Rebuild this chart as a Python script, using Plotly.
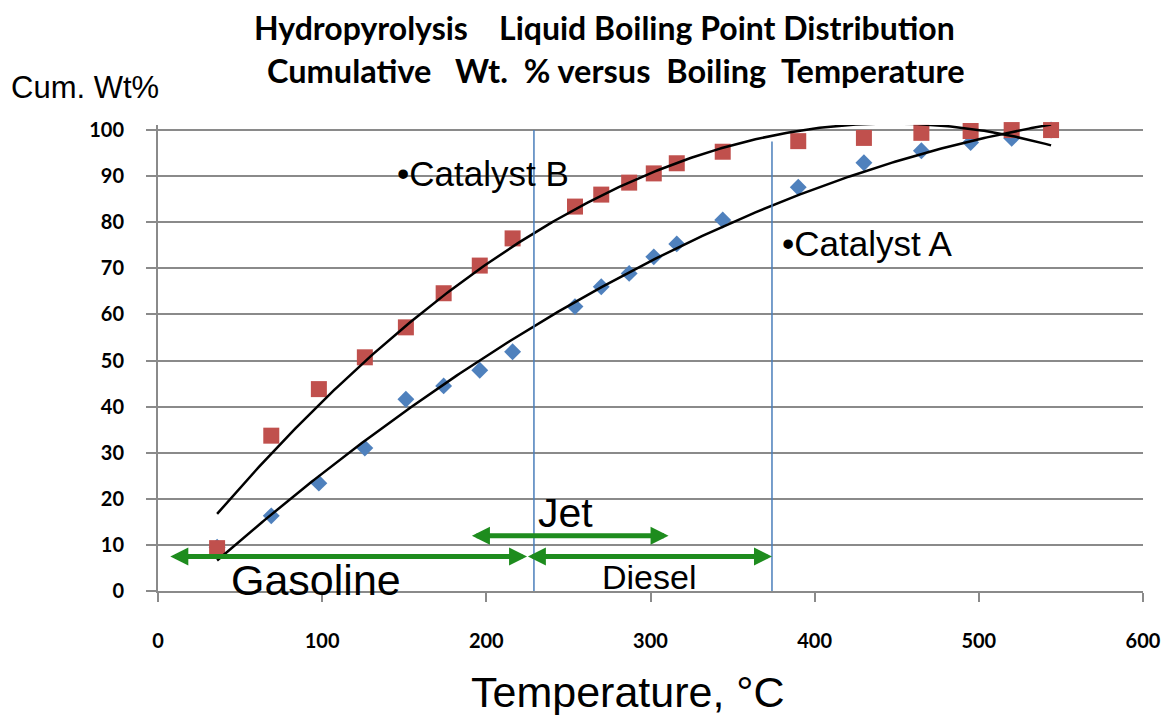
import numpy as np
import plotly.graph_objects as go

# ---------------- data ----------------
TEMP_C = [36, 69, 98, 126, 151, 174, 196, 216, 254, 270, 287, 302, 316, 344,
          390, 430, 465, 495, 520, 544]
CATALYST_A = [9.5, 16.3, 23.4, 31.0, 41.6, 44.5, 47.9, 51.9, 61.7, 66.0, 68.9,
              72.5, 75.3, 80.5, 87.6, 92.9, 95.5, 97.3, 98.2, 100.0]
CATALYST_B = [9.3, 33.7, 43.8, 50.7, 57.2, 64.6, 70.6, 76.5, 83.4, 86.0, 88.6,
              90.6, 92.8, 95.3, 97.6, 98.3, 99.4, 99.8, 100.0, 100.0]

X_TICKS = [0, 100, 200, 300, 400, 500, 600]
Y_TICKS = [0, 10, 20, 30, 40, 50, 60, 70, 80, 90, 100]

# fraction cut temperatures (blue vertical lines) and their top values
CUT_TEMPS = [229, 374]
CUT_TOPS = [100, 97.5]

# product ranges (green double arrows): name, start, end, level
RANGES = [
    ("Gasoline", 6.6, 224.8, 7.5),
    ("Diesel", 224.4, 374.0, 7.5),
    ("Jet", 190.3, 311.0, 12.0),
]

BLUE = "#4F81BD"
RED = "#C0504D"
GREEN = "#1E8C1E"
GRID = "#8A8A8A"
ARIAL = "Liberation Sans, Arial, sans-serif"
CALIBRI = "Lato, Carlito, Calibri, sans-serif"

fig = go.Figure()

fig.add_trace(go.Scatter(x=TEMP_C, y=CATALYST_A, mode="markers", name="Catalyst A",
                         marker=dict(symbol="diamond", size=13, color=BLUE),
                         showlegend=False, cliponaxis=False))
fig.add_trace(go.Scatter(x=TEMP_C, y=CATALYST_B, mode="markers", name="Catalyst B",
                         marker=dict(symbol="square", size=16, color=RED),
                         showlegend=False, cliponaxis=False))

# 2nd order polynomial trendlines (as in the original spreadsheet chart)
xs = np.linspace(min(TEMP_C), max(TEMP_C), 300)
for series in (CATALYST_A, CATALYST_B):
    coef = np.polyfit(TEMP_C, series, 2)
    fig.add_trace(go.Scatter(x=xs, y=np.polyval(coef, xs), mode="lines",
                             line=dict(color="black", width=2.5),
                             showlegend=False, hoverinfo="skip"))

shapes = []
for xc, top in zip(CUT_TEMPS, CUT_TOPS):
    shapes.append(dict(type="line", xref="x", yref="y", x0=xc, x1=xc, y0=0, y1=top,
                       line=dict(color="#4A7EBB", width=1.5)))

annotations = []
for name, x0, x1, lvl in RANGES:
    annotations.append(dict(x=x1, y=lvl, ax=x0, ay=lvl, xref="x", yref="y",
                            axref="x", ayref="y", text="", showarrow=True,
                            arrowside="end+start", arrowhead=2, startarrowhead=2,
                            arrowsize=0.72, startarrowsize=0.72,
                            arrowwidth=5, arrowcolor=GREEN, standoff=0, startstandoff=0))

# in-plot text labels
annotations += [
    dict(x=144.5, y=90.5, xref="x", yref="y", text="•Catalyst B", showarrow=False,
         xanchor="left", yanchor="middle", font=dict(family=ARIAL, size=35, color="black")),
    dict(x=379.0, y=75.5, xref="x", yref="y", text="•Catalyst A", showarrow=False,
         xanchor="left", yanchor="middle", font=dict(family=ARIAL, size=35, color="black")),
    dict(x=43.5, y=2.4, xref="x", yref="y", text="Gasoline", showarrow=False,
         xanchor="left", yanchor="middle", font=dict(family=ARIAL, size=43, color="black")),
    dict(x=230.4, y=17.0, xref="x", yref="y", text="Jet", showarrow=False,
         xanchor="left", yanchor="middle", font=dict(family=ARIAL, size=41, color="black")),
    dict(x=269.0, y=3.0, xref="x", yref="y", text="Diesel", showarrow=False,
         xanchor="left", yanchor="middle", font=dict(family=ARIAL, size=34, color="black")),
]

# titles (paper coordinates of the plot area: x 157.5..1143 px, y 591..125 px)
annotations += [
    dict(x=0.4530, y=1.2082, xref="paper", yref="paper", showarrow=False,
         text="<b>Hydropyrolysis\u00a0\u00a0\u00a0 Liquid Boiling Point Distribution</b>",
         xanchor="center", yanchor="middle", font=dict(family=CALIBRI, size=32, color="black")),
    dict(x=0.4647, y=1.1180, xref="paper", yref="paper", showarrow=False,
         text="<b>Cumulative\u00a0\u00a0 Wt.\u00a0 % versus\u00a0 Boiling\u00a0 Temperature</b>",
         xanchor="center", yanchor="middle", font=dict(family=CALIBRI, size=32.5, color="black")),
    dict(x=-0.1516, y=1.0815, xref="paper", yref="paper", showarrow=False,
         text="Cum. Wt%", xanchor="left", yanchor="middle",
         font=dict(family=ARIAL, size=31, color="black")),
    dict(x=0.4770, y=-0.2167, xref="paper", yref="paper", showarrow=False,
         text="Temperature, °C", xanchor="center", yanchor="middle",
         font=dict(family=ARIAL, size=43, color="black")),
]

fig.update_layout(
    width=1161, height=715,
    margin=dict(l=157.5, r=18, t=125, b=124),
    paper_bgcolor="white", plot_bgcolor="white",
    shapes=shapes, annotations=annotations,
    showlegend=False,
)
fig.update_xaxes(range=[0, 600], tickvals=X_TICKS, showgrid=False, zeroline=False,
                 showline=True, linecolor=GRID, linewidth=2, automargin=False,
                 ticks="outside", ticklen=9, tickwidth=2, tickcolor=GRID,
                 tickfont=dict(family=CALIBRI, size=20, color="black", weight="bold"),
                 ticklabelstandoff=22)
fig.update_yaxes(range=[0, 101.1], tickvals=Y_TICKS, showgrid=True, gridcolor=GRID,
                 gridwidth=2, zeroline=False, showline=True, linecolor=GRID, linewidth=2,
                 automargin=False,
                 ticks="outside", ticklen=10, tickwidth=2, tickcolor=GRID,
                 tickfont=dict(family=CALIBRI, size=20, color="black", weight="bold"),
                 ticklabelstandoff=18)

fig.write_html("out.html")
